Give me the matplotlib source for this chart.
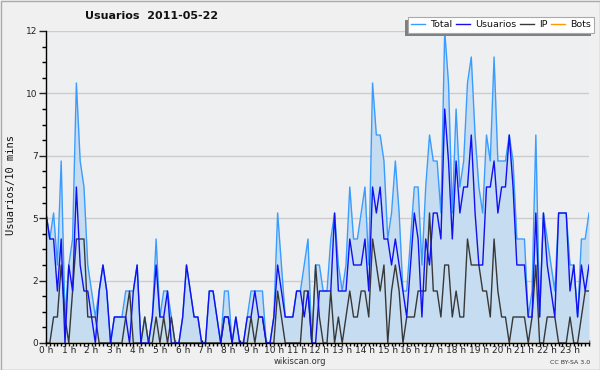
import matplotlib
matplotlib.use('Agg')
import matplotlib.pyplot as plt
from matplotlib.patches import Rectangle
from matplotlib.lines import Line2D

# ---- data (10-minute intervals, 2011-05-22) ----
hour_labels = [f"{h} h" for h in range(24)]
usuarios = [5, 4, 4, 2, 4, 0, 3, 2, 6, 3, 2, 2, 1, 0, 2, 3, 2, 0, 1, 1, 1, 1, 0, 2,
            3, 0, 0, 0, 1, 3, 1, 1, 2, 0, 0, 0, 1, 3, 2, 1, 1, 0, 0, 2, 2, 1, 0, 1,
            1, 0, 1, 0, 0, 1, 1, 2, 1, 1, 0, 0, 1, 3, 2, 1, 1, 1, 2, 2, 1, 2, 0, 0,
            2, 2, 2, 2, 5, 2, 2, 2, 4, 3, 3, 3, 4, 2, 6, 5, 6, 4, 4, 3, 4, 3, 2, 1,
            3, 5, 4, 1, 4, 3, 5, 5, 4, 9, 7, 4, 7, 5, 6, 6, 8, 5, 3, 3, 6, 6, 7, 5,
            6, 6, 8, 6, 3, 3, 3, 1, 1, 5, 1, 5, 3, 2, 1, 5, 5, 5, 2, 3, 1, 3, 2, 3]
ip = [0, 0, 1, 1, 3, 1, 0, 2, 4, 4, 4, 1, 1, 1, 0, 0, 0, 0, 0, 0, 0, 1, 2, 0,
      0, 0, 1, 0, 0, 1, 0, 1, 0, 1, 0, 0, 0, 0, 0, 0, 0, 0, 0, 0, 0, 0, 0, 1,
      1, 0, 0, 0, 0, 0, 1, 0, 1, 1, 0, 0, 0, 2, 1, 0, 0, 0, 0, 0, 2, 2, 0, 3,
      1, 0, 0, 2, 0, 1, 0, 1, 2, 1, 1, 2, 2, 1, 4, 3, 2, 3, 0, 2, 3, 2, 0, 1,
      1, 1, 2, 2, 2, 5, 2, 2, 1, 3, 3, 1, 2, 1, 1, 4, 3, 3, 3, 2, 2, 1, 4, 2,
      1, 1, 0, 1, 1, 1, 1, 0, 1, 3, 0, 0, 1, 1, 1, 0, 0, 0, 1, 0, 0, 1, 2, 2]
total = [5, 4, 5, 3, 7, 1, 3, 4, 10, 7, 6, 3, 2, 1, 2, 3, 2, 0, 1, 1, 1, 2, 2, 2,
         3, 0, 1, 0, 1, 4, 1, 2, 2, 1, 0, 0, 1, 3, 2, 1, 1, 0, 0, 2, 2, 1, 0, 2,
         2, 0, 1, 0, 0, 1, 2, 2, 2, 2, 0, 0, 1, 5, 3, 1, 1, 1, 2, 2, 3, 4, 0, 3,
         3, 2, 2, 4, 5, 3, 2, 3, 6, 4, 4, 5, 6, 3, 10, 8, 8, 7, 4, 5, 7, 5, 2, 2,
         4, 6, 6, 3, 6, 8, 7, 7, 5, 12, 10, 5, 9, 6, 7, 10, 11, 8, 6, 5, 8, 7, 11, 7,
         7, 7, 8, 7, 4, 4, 4, 1, 2, 8, 1, 5, 4, 3, 2, 5, 5, 5, 3, 3, 1, 4, 4, 5]
bots = [0] * 144
ytick_vals = [0, 2.4, 4.8, 7.2, 9.6, 12]
ytick_labels = ['0', '2', '5', '7', '10', '12']

C_TOTAL = '#3b9cff'
C_FILL = '#c6dcf0'
C_USR = '#1010f0'
C_IP = '#383838'
C_BOTS = '#ff9900'

plt.rcParams['font.family'] = ['DejaVu Sans']

W, H = 600, 370
fig = plt.figure(figsize=(6, 3.7), dpi=100, facecolor='#f0f0f0')
ax = fig.add_axes([46 / W, 1 - 343 / H, 543 / W, 312 / H])
ax.set_facecolor('#eeeff1')

x = list(range(len(total)))
ax.fill_between(x, total, 0, color=C_FILL, lw=0, zorder=1)
ax.plot(x, bots, color=C_BOTS, lw=1.0, zorder=2)
ax.plot(x, total, color=C_TOTAL, lw=1.0, zorder=3)
ax.plot(x, ip, color=C_IP, lw=1.0, zorder=4)
ax.plot(x, usuarios, color=C_USR, lw=1.0, zorder=5)

ax.set_xlim(0, len(total) - 1)
ax.set_ylim(0, 12)

ax.set_yticks(ytick_vals)
ax.set_yticklabels(ytick_labels)
ax.set_yticks([v * 0.6 for v in range(21)], minor=True)
ax.yaxis.grid(True, color='#cccccc', lw=1.0, zorder=0)
ax.set_axisbelow(True)

ax.set_xticks([h * 6 for h in range(24)])
ax.set_xticklabels(hour_labels)
ax.set_xticks(x, minor=True)

ax.tick_params(axis='y', which='major', direction='out', length=5, width=1,
               labelsize=6.5, colors='#222222', pad=1)
ax.tick_params(axis='y', which='minor', direction='out', length=3, width=1)
ax.tick_params(axis='x', which='major', direction='inout', length=5, width=1,
               labelsize=6.5, colors='#222222', pad=0)
ax.tick_params(axis='x', which='minor', direction='inout', length=4, width=1)

for s in ['top', 'right']:
    ax.spines[s].set_visible(False)
for s in ['left', 'bottom']:
    ax.spines[s].set_color('black')
    ax.spines[s].set_linewidth(1.0)
    ax.spines[s].set_zorder(10)

fig.text(11 / W, 1 - 185 / H, 'Usuarios/10 mins', rotation=90, ha='center', va='center',
         fontsize=7.5, family='DejaVu Sans Mono', color='#111111')
fig.text(85 / W, 1 - 16 / H, 'Usuarios  2011-05-22', ha='left', va='center',
         fontsize=8, fontweight='bold', color='#111111')
fig.text(300 / W, 1 - 362 / H, 'wikiscan.org', ha='center', va='center',
         fontsize=6, color='#333333')
fig.text(590 / W, 1 - 362 / H, 'CC BY-SA 3.0', ha='right', va='center',
         fontsize=4.5, color='#333333')

handles = [Line2D([], [], color=C_TOTAL, lw=1), Line2D([], [], color=C_USR, lw=1),
           Line2D([], [], color=C_IP, lw=1), Line2D([], [], color=C_BOTS, lw=1)]
leg = fig.legend(handles, ['Total', 'Usuarios', 'IP', 'Bots'], ncol=4,
                 loc='upper right', bbox_to_anchor=(594 / W, 1 - 17 / H),
                 fontsize=6.8, frameon=True, fancybox=False, handlelength=1.5,
                 handletextpad=0.5, columnspacing=0.4, borderpad=0.35,
                 borderaxespad=0, labelcolor='#111111')
leg.get_frame().set_edgecolor('#aaaaaa')
leg.get_frame().set_linewidth(0.8)
leg.get_frame().set_facecolor('white')
leg.get_frame().set_alpha(1)
leg.set_zorder(20)

fig.canvas.draw()
bb = leg.get_window_extent().transformed(fig.transFigure.inverted())
sh = Rectangle((bb.x0 - 3 / W, bb.y0 - 3 / H), bb.width, bb.height,
               transform=fig.transFigure, facecolor='#808080', edgecolor='none', zorder=19)
fig.patches.append(sh)

border = Rectangle((0.5 / W, 0.5 / H), 1 - 1 / W, 1 - 1 / H, transform=fig.transFigure,
                   facecolor='none', edgecolor='#aaaaaa', lw=1, zorder=30)
fig.patches.append(border)

fig.savefig('out.png', dpi=100, facecolor=fig.get_facecolor())
